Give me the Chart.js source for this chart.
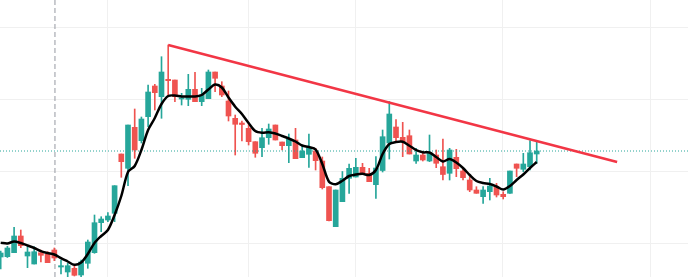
<!DOCTYPE html>
<html>
<head>
<meta charset="utf-8">
<script src="https://cdn.jsdelivr.net/npm/chart.js@4.4.1/dist/chart.umd.min.js"></script>
<style>
  html, body { margin: 0; padding: 0; background: #ffffff; }
  #wrap { width: 688px; height: 277px; }
</style>
</head>
<body>
<div id="wrap"><canvas id="chart"></canvas></div>
<script>
// candle values (index = candle number)
const opens  = [43, 43.3, 47.3, 64, 44, 36, 47.3, 45.7, 50, 33, 28, 31.7, 25, 36.7, 47.3, 77.3, 80, 86.7, 146, 131.7,
                172.7, 159.3, 183.3, 214, 203.3, 220.7, 220, 201, 200.7, 210.7, 198.3, 201.3, 228, 214, 199, 181.7, 177, 171.7, 158.3, 152.3,
                162.3, 175, 158, 154.3, 160, 142.3, 145.7, 149, 139, 113.3, 73.3, 98.3, 121.7, 123, 132.7, 126.7, 115.3, 129.5, 157, 173,
                162.7, 164.3, 139, 145, 139, 145, 133.3, 126.7, 142.7, 129, 120, 110, 103.3, 108.3, 113.3, 105.7, 106.7, 136, 130.7, 133.3, 146];
const highs  = [49, 53.7, 72.7, 70, 53.3, 53.3, 50, 48.3, 52, 40, 36.7, 34.7, 40, 60, 85, 83.3, 87.3, 114.3, 146, 175,
                191, 183, 215, 215.7, 243.3, 255, 220, 206.7, 225.7, 227.7, 211.7, 230, 228, 218.3, 209, 185, 179, 176.7, 158.3, 171.7,
                176, 175, 158, 166, 171.7, 154, 166, 151.7, 143, 113.3, 110, 128.5, 136, 141.7, 136.7, 131.7, 143.3, 170, 198.5, 180.5,
                177.7, 170, 151.7, 148.3, 165, 150, 161, 151.7, 150.7, 131.7, 123.3, 113.3, 113.3, 121.7, 116.7, 108.3, 129, 136, 146.7, 159.3, 159];
const lows   = [31, 42.5, 47.3, 52.3, 32.3, 36, 38, 37.3, 39.3, 26, 23.3, 24, 22.7, 31.7, 46.7, 68.3, 78.3, 78.3, 122.7, 114.3,
                141.7, 157, 173.3, 190, 181.7, 205, 198.3, 195, 194.3, 198.3, 194.3, 201.3, 208.3, 203.3, 179, 145, 159, 155, 142.7, 143.3,
                155.7, 160, 150, 137.3, 141.3, 142.3, 132.7, 130, 111, 79, 73.3, 98.3, 106.7, 123, 126.7, 118.3, 101.7, 128, 141, 158.3,
                143.3, 146, 136.7, 139, 138.3, 132.3, 120, 120, 123.3, 120, 108.3, 106.7, 96.7, 100, 103, 101, 106.7, 123.3, 128.3, 130, 136.7];
const closes = [47, 52, 64, 54.3, 48, 48.3, 44.7, 37.3, 42, 34.3, 34.3, 24.7, 38, 58, 77.3, 81, 84, 114.3, 138.3, 175,
                150, 181, 208, 207.3, 228, 219.3, 203.3, 202.3, 210.7, 198.3, 205, 228, 221.7, 205, 184, 175.7, 175.5, 158.3, 146.7, 162.3,
                171, 160, 154.3, 160.7, 141.3, 149, 152.3, 139.3, 112.3, 79.3, 110, 121.7, 131.7, 132.7, 127.3, 118.3, 132, 163.3, 186, 162.3,
                158.3, 146, 145, 140, 146.7, 136.7, 125.5, 150, 131.3, 122.3, 110, 106.7, 110, 114, 105, 103.3, 129, 131.7, 136, 147.3, 149];

// black moving average line as drawn
const maValues = [57.3, 56.5, 58.5, 57, 54.5, 52, 48.8, 47, 45.5, 41.8, 38.5, 35.2, 37.5, 46, 57, 64, 70, 85, 104, 128,
                  134, 150, 170, 182, 196, 204, 204.5, 203.5, 203.5, 203.5, 205, 210.5, 215.5, 212.5, 202.5, 193.3, 186, 177, 169, 167.3,
                  167.7, 166.5, 164, 161.5, 158.5, 154.5, 153, 150.5, 136, 118.3, 115.8, 119.3, 124, 125.5, 126.2, 125, 130, 146, 156, 158,
                  158.3, 154.3, 150, 147.7, 147.5, 143, 138.5, 141, 137.5, 132, 125, 119, 117, 116, 113.5, 110.5, 114, 120, 125.5, 132, 138];

// red trend line (two anchor points), last price line, session marker, grid positions
const trendX = [25, 92];
const trendY = [255, 138];
const lastPrice = 149;
const sessionX = 8.1;
const gridX = [15.94, 36.97, 52.94, 74.88, 96.96];
const gridY = [56.7, 128.7, 200.7, 272.7];

const xMin = -0.104, xMax = 102.58;
const yMin = 23, yMax = 300;

const UP = '#26a69a';
const DOWN = '#ef5350';
const colors = closes.map((c, i) => c >= opens[i] ? UP : DOWN);

const bodies = opens.map((o, i) => ({ x: i, y: [o, closes[i]] }));
const wicks = opens.map((o, i) => ({ x: i, y: [lows[i], highs[i]] }));
const maLine = maValues.map((v, i) => ({ x: i, y: v }));

const hiddenAxis = (min, max, ticksAt) => ({
    type: 'linear',
    min: min,
    max: max,
    offset: false,
    grid: { color: '#f0f0f0', lineWidth: 1, drawTicks: false, offset: false },
    border: { display: false },
    ticks: { display: false, autoSkip: false },
    afterBuildTicks: function (scale) {
        scale.ticks = ticksAt.map(v => ({ value: v }));
    }
});

new Chart(document.getElementById('chart'), {
    type: 'bar',
    data: {
        datasets: [
            {
                type: 'line',
                data: trendX.map((x, i) => ({ x: x, y: trendY[i] })),
                borderColor: '#f23645',
                borderWidth: 2.5,
                pointRadius: 0,
                order: 0
            },
            {
                type: 'line',
                data: maLine,
                borderColor: '#000000',
                borderWidth: 2.5,
                pointRadius: 0,
                tension: 0.3,
                order: 1
            },
            {
                type: 'line',
                data: [{ x: xMin, y: lastPrice }, { x: xMax, y: lastPrice }],
                borderColor: UP,
                borderWidth: 1,
                borderDash: [1, 2],
                pointRadius: 0,
                order: 2
            },
            {
                data: bodies,
                backgroundColor: colors,
                borderWidth: 0,
                barThickness: 5,
                grouped: false,
                order: 3
            },
            {
                data: wicks,
                backgroundColor: colors,
                borderWidth: 0,
                barThickness: 1,
                grouped: false,
                order: 4
            },
            {
                type: 'line',
                data: [{ x: sessionX, y: yMin }, { x: sessionX, y: yMax }],
                borderColor: '#9598a1',
                borderWidth: 1,
                borderDash: [5, 3],
                pointRadius: 0,
                order: 5
            }
        ]
    },
    options: {
        responsive: true,
        maintainAspectRatio: false,
        animation: false,
        layout: { padding: 0 },
        plugins: {
            legend: { display: false },
            tooltip: { enabled: false }
        },
        scales: {
            x: hiddenAxis(xMin, xMax, gridX),
            y: hiddenAxis(yMin, yMax, gridY)
        }
    }
});
</script>
</body>
</html>
